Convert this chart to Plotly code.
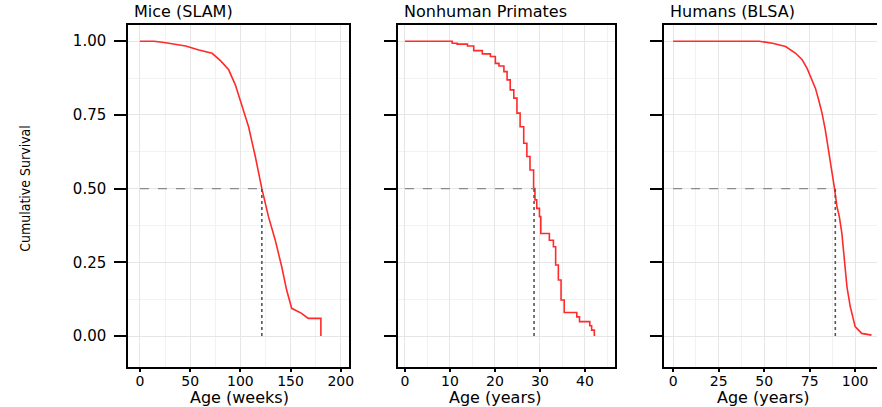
import plotly.graph_objects as go

W, H = 882, 407

# Kaplan-Meier survival curves
mice_weeks = [0, 14.2, 25.7, 45.5, 58.7, 71.9, 80.2, 88.4, 95, 103.3, 108.2, 114.9,
              121.4, 128, 134.7, 141.2, 146.1, 151.1, 161, 167.6, 180.2, 180.2]
mice_surv = [1.0, 1.0, 0.995, 0.984, 0.97, 0.959, 0.934, 0.903, 0.852, 0.767, 0.71, 0.609,
             0.5, 0.405, 0.326, 0.235, 0.156, 0.094, 0.077, 0.06, 0.06, 0.0]
mice_median = 121.4

nhp_years = [0, 10.5, 11.6, 13.9, 15.3, 17.2, 19, 20.1, 20.9, 22, 22.7, 23.4, 24.2, 24.9,
             25.6, 26.4, 27.1, 27.8, 28.6, 28.9, 29.3, 29.9, 30.2, 32.1, 33, 33.5, 34.1,
             34.7, 35.4, 38.2, 38.8, 41.1, 41.5, 42.1]
nhp_surv = [1.0, 0.993, 0.99, 0.984, 0.968, 0.957, 0.948, 0.925, 0.916, 0.897, 0.869, 0.835,
            0.807, 0.756, 0.71, 0.654, 0.609, 0.563, 0.5, 0.462, 0.433, 0.405, 0.348, 0.325,
            0.303, 0.241, 0.19, 0.122, 0.08, 0.065, 0.049, 0.035, 0.02, 0.0]
nhp_median = 28.7

hum_years = [0, 47.3, 54.6, 61.8, 67.3, 70.9, 73.6, 76.4, 78.2, 80, 81.8, 83.6, 85.4, 87.3,
             88.5, 90, 91.3, 92.7, 94.2, 95.5, 97.3, 100, 103.6, 109]
hum_surv = [1.0, 1.0, 0.993, 0.982, 0.959, 0.937, 0.908, 0.869, 0.84, 0.8, 0.756, 0.699,
            0.631, 0.563, 0.507, 0.439, 0.405, 0.348, 0.258, 0.167, 0.1, 0.032, 0.009, 0.003]
hum_median = 89.1

titles = ["Mice (SLAM)", "Nonhuman Primates", "Humans (BLSA)"]
xtitles = ["Age (weeks)", "Age (years)", "Age (years)"]
y_ticks = [0, 0.25, 0.5, 0.75, 1.0]
y_labels = ["0.00", "0.25", "0.50", "0.75", "1.00"]


def px(x):
    return x / W


def py(y):
    return 1 - y / H


# data, median, line shape, panel px extent, x range, tick step, x-title centre px
panels = [
    (mice_weeks, mice_surv, mice_median, "linear", [129, 351], [-11.6, 208.2], 50, 241),
    (nhp_years, nhp_surv, nhp_median, "hv", [400, 619], [-1.6, 46.8], 10, 498),
    (hum_years, hum_surv, hum_median, "linear", [668, 882], [-4.9, 112], 25, 768),
]

fig = go.Figure()
tick_font = dict(family="DejaVu Sans", size=14, color="black")
layout = {}
ann = []

for i, (xs, ys, med, shape, dom, rng, dt, xt) in enumerate(panels):
    n = "" if i == 0 else str(i + 1)
    xa, ya = "x" + n, "y" + n
    fig.add_trace(go.Scatter(x=xs, y=ys, mode="lines", line=dict(color="#ff2a2a", width=1.6, shape=shape),
                             xaxis=xa, yaxis=ya, showlegend=False, hoverinfo="skip"))
    # median guides
    fig.add_trace(go.Scatter(x=[0, med], y=[0.5, 0.5], mode="lines",
                             line=dict(color="#8a8a8a", width=1.2, dash="dash"),
                             xaxis=xa, yaxis=ya, showlegend=False, hoverinfo="skip"))
    fig.add_trace(go.Scatter(x=[med, med], y=[0, 0.5], mode="lines",
                             line=dict(color="#555555", width=1.6, dash="dot"),
                             xaxis=xa, yaxis=ya, showlegend=False, hoverinfo="skip"))
    last = i == 2
    layout["xaxis" + n] = dict(
        domain=[px(dom[0]), px(dom[1])], range=rng, anchor=ya,
        tickmode="linear", tick0=0, dtick=dt,
        showgrid=True, gridcolor="#e6e6e6", gridwidth=1,
        minor=dict(showgrid=True, gridcolor="#f2f2f2", dtick=dt / 2, tick0=0),
        showline=True, linecolor="black", linewidth=2, mirror=True,
        ticks="outside", ticklen=3, tickwidth=2, tickcolor="black",
        tickfont=tick_font, zeroline=False, ticklabelstandoff=-3,
    )
    layout["yaxis" + n] = dict(
        domain=[py(367), py(25)], range=[-0.105, 1.055], anchor=xa,
        tickvals=y_ticks, ticktext=y_labels, showticklabels=(i == 0),
        showgrid=True, gridcolor="#e6e6e6", gridwidth=1,
        minor=dict(showgrid=True, gridcolor="#f2f2f2", tickvals=[0.125, 0.375, 0.625, 0.875]),
        showline=True, linecolor="black", linewidth=2, mirror=not last,
        ticks="outside", ticklen=12, tickwidth=2, tickcolor="black",
        tickfont=dict(family="DejaVu Sans", size=15, color="black"),
        zeroline=False, ticklabelstandoff=5,
    )
    ann.append(dict(text=titles[i], x=px(dom[0] + 4), y=py(23), xref="paper", yref="paper",
                    xanchor="left", yanchor="bottom", showarrow=False,
                    font=dict(family="DejaVu Sans", size=16, color="black")))
    ann.append(dict(text=xtitles[i], x=px(xt), y=py(397), xref="paper", yref="paper",
                    xanchor="center", yanchor="middle", showarrow=False,
                    font=dict(family="DejaVu Sans", size=16, color="black")))

ann.append(dict(text="Cumulative Survival", x=px(25), y=py(188), xref="paper", yref="paper",
                textangle=-90, showarrow=False, xanchor="center", yanchor="middle",
                font=dict(family="Liberation Sans Narrow, DejaVu Sans Condensed, Arial Narrow",
                          size=14, color="black")))

fig.update_layout(
    width=W, height=H, margin=dict(l=0, r=0, t=0, b=0),
    paper_bgcolor="white", plot_bgcolor="white",
    annotations=ann, **layout,
)

fig.write_html("out.html", config={"displayModeBar": False},
               post_script="document.body.style.margin='0';")
